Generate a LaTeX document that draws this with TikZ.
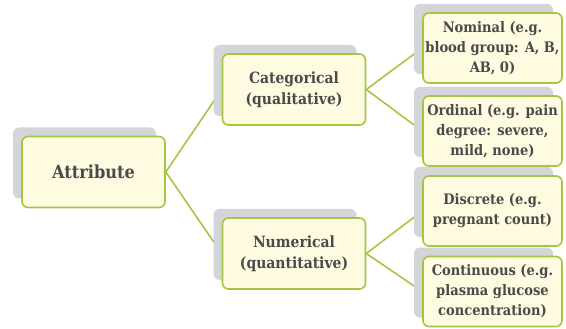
\documentclass[tikz,border=0pt]{standalone}
\usepackage{fontspec}
\setmainfont{DejaVu Serif Condensed}
\usetikzlibrary{shadows}
\definecolor{boxfill}{HTML}{FEFBE1}
\definecolor{boxline}{HTML}{A3C643}
\definecolor{shade}{HTML}{D3D5D9}
\definecolor{txt}{HTML}{4A4A4A}

\begin{document}
\begin{tikzpicture}
    \tikzstyle{box} = [draw=boxline,fill=boxfill,line width=1.6pt,rounded corners=6pt,align=center,text=txt,font=\fontsize{15.5}{21}\selectfont\bfseries,minimum width=143pt,minimum height=71pt,inner sep=1pt,drop shadow={shadow xshift=-9pt,shadow yshift=9pt,fill=shade,opacity=1}]
\tikzstyle{root} = [box,font=\fontsize{18}{22}\selectfont\bfseries]
\tikzstyle{leaf} = [box,font=\fontsize{14.5}{20}\selectfont\bfseries,minimum width=139pt,minimum height=70pt]
\tikzstyle{edge} = [draw=boxline,line width=1.6pt]

\pgfdeclarelayer{background}
\pgfsetlayers{background,main}

\useasboundingbox (0,0) rectangle (566pt,-329pt);

\node[root] (attr) at (93.5pt,-172pt) {Attribute};
\node[box,right of=attr,node distance=200.5pt,yshift=82.5pt] (cat) {Categorical\\(qualitative)};
\node[box,right of=attr,node distance=200.5pt,yshift=-81.5pt] (num) {Numerical\\(quantitative)};

\node[leaf,right of=cat,node distance=198.5pt,yshift=41.5pt] (nom) {Nominal (e.g.\\blood group: A, B,\\AB, 0)};
\node[leaf,right of=cat,node distance=198.5pt,yshift=-41.5pt] (ord) {Ordinal (e.g. pain\\degree: severe,\\mild, none)};
\node[leaf,right of=num,node distance=198.5pt,yshift=42.5pt] (dis) {Discrete (e.g.\\pregnant count)};
\node[leaf,right of=num,node distance=198.5pt,yshift=-38pt] (con) {Continuous (e.g.\\plasma glucose\\concentration)};

\begin{pgfonlayer}{background}
\draw[edge] (attr.east) -- (cat.west);
\draw[edge] (attr.east) -- (num.west);
\draw[edge] (cat.east) -- (nom.west);
\draw[edge] (cat.east) -- (ord.west);
\draw[edge] (num.east) -- (dis.west);
\draw[edge] (num.east) -- (con.west);
\end{pgfonlayer}

\end{tikzpicture}
\end{document}
